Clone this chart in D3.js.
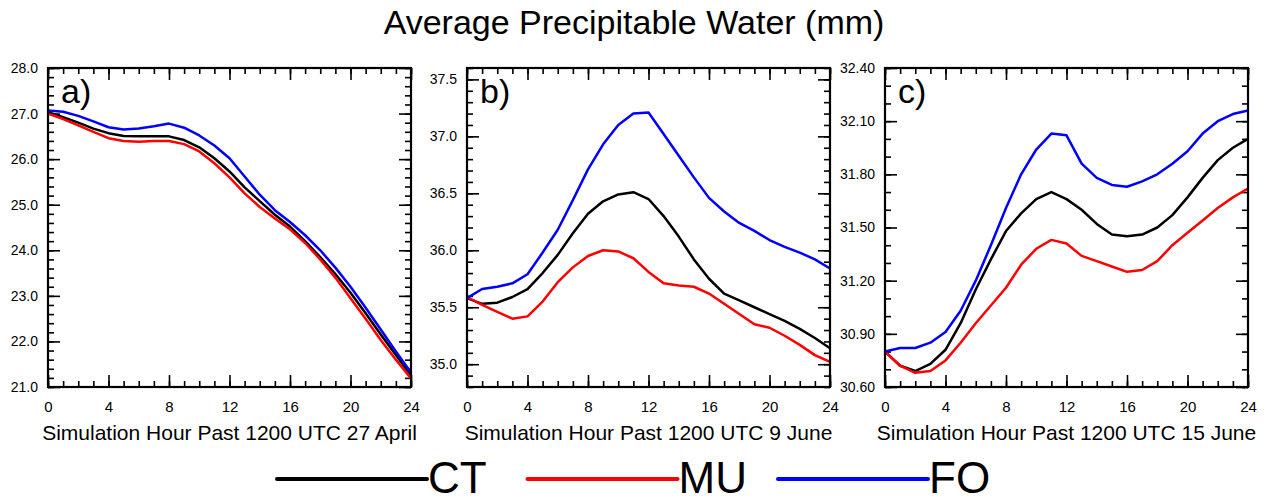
<!DOCTYPE html>
<html>
<head>
<meta charset="utf-8">
<script src="https://cdn.jsdelivr.net/npm/d3@7"></script>
<style>
  body { margin: 0; background: #fff; }
  text { font-family: "Liberation Sans", Arial, Helvetica, sans-serif; fill: #000; }
</style>
</head>
<body>
<svg id="chart" width="1268" height="499"></svg>
<script>
// simulation hours 0..24
var hours = d3.range(0, 25);
var seriesNames = ["CT", "MU", "FO"];
var seriesColors = ["#000000", "#ff0000", "#0000ff"];

// a) 27 April
var aprilCT = [27.03, 26.92, 26.80, 26.67, 26.57, 26.51, 26.50, 26.50, 26.50, 26.42, 26.26, 26.02, 25.73, 25.38, 25.08, 24.78, 24.52, 24.20, 23.85, 23.48, 23.07, 22.62, 22.15, 21.70, 21.26];
var aprilMU = [27.00, 26.88, 26.74, 26.60, 26.46, 26.40, 26.38, 26.40, 26.40, 26.33, 26.17, 25.91, 25.60, 25.25, 24.95, 24.70, 24.46, 24.16, 23.80, 23.40, 22.95, 22.50, 22.03, 21.60, 21.19];
var aprilFO = [27.07, 27.04, 26.95, 26.83, 26.70, 26.65, 26.67, 26.72, 26.78, 26.69, 26.52, 26.30, 26.02, 25.62, 25.22, 24.88, 24.62, 24.33, 24.00, 23.62, 23.20, 22.74, 22.26, 21.78, 21.32];

// b) 9 June
var june9CT = [35.58, 35.53, 35.54, 35.59, 35.66, 35.80, 35.96, 36.15, 36.32, 36.43, 36.49, 36.51, 36.45, 36.30, 36.12, 35.92, 35.75, 35.62, 35.56, 35.50, 35.44, 35.38, 35.31, 35.23, 35.14];
var june9MU = [35.59, 35.52, 35.46, 35.40, 35.42, 35.55, 35.72, 35.85, 35.95, 36.00, 35.99, 35.93, 35.81, 35.71, 35.69, 35.68, 35.62, 35.53, 35.44, 35.35, 35.32, 35.25, 35.17, 35.08, 35.02];
var june9FO = [35.58, 35.66, 35.68, 35.71, 35.79, 35.98, 36.18, 36.44, 36.71, 36.93, 37.10, 37.20, 37.21, 37.02, 36.83, 36.64, 36.46, 36.34, 36.24, 36.17, 36.09, 36.03, 35.98, 35.92, 35.84];

// c) 15 June
var june15CT = [30.80, 30.72, 30.69, 30.73, 30.81, 30.96, 31.15, 31.32, 31.48, 31.58, 31.66, 31.70, 31.66, 31.60, 31.52, 31.46, 31.45, 31.46, 31.50, 31.57, 31.67, 31.78, 31.88, 31.95, 32.00];
var june15MU = [30.80, 30.72, 30.68, 30.69, 30.75, 30.85, 30.96, 31.06, 31.16, 31.29, 31.38, 31.43, 31.41, 31.34, 31.31, 31.28, 31.25, 31.26, 31.31, 31.40, 31.47, 31.54, 31.61, 31.67, 31.72];
var june15FO = [30.80, 30.82, 30.82, 30.85, 30.91, 31.03, 31.20, 31.40, 31.61, 31.80, 31.94, 32.03, 32.02, 31.86, 31.78, 31.74, 31.73, 31.76, 31.80, 31.86, 31.93, 32.03, 32.10, 32.14, 32.16];

// axis settings
var xMajorTicks = [0, 4, 8, 12, 16, 20, 24];
var panelLetters = ["a)", "b)", "c)"];
var panelTitles = ["Simulation Hour Past 1200 UTC 27 April", "Simulation Hour Past 1200 UTC 9 June", "Simulation Hour Past 1200 UTC 15 June"];
var yDomains = [[21.0, 28.0], [34.8, 37.6], [30.6, 32.4]];
var yMajorTicks = [
  [21.0, 22.0, 23.0, 24.0, 25.0, 26.0, 27.0, 28.0],
  [35.0, 35.5, 36.0, 36.5, 37.0, 37.5],
  [30.6, 30.9, 31.2, 31.5, 31.8, 32.1, 32.4]
];
var yMinorStep = [0.2, 0.1, 0.1];
var yFormats = [".1f", ".1f", ".2f"];
var panelData = [
  [aprilCT, aprilMU, aprilFO],
  [june9CT, june9MU, june9FO],
  [june15CT, june15MU, june15FO]
];

var svg = d3.select("#chart");
var panelLeft = [48, 467, 885];
var pw = 363, ph = 319, top0 = 68;

// title
svg.append("text")
  .attr("x", 634).attr("y", 34)
  .attr("text-anchor", "middle")
  .style("font-size", "34px")
  .text("Average Precipitable Water (mm)");

panelLetters.forEach(function(letter, p) {
  var g = svg.append("g").attr("transform", "translate(" + panelLeft[p] + "," + top0 + ")");

  var x = d3.scaleLinear().domain([0, 24]).range([0, pw]);
  var y = d3.scaleLinear().domain(yDomains[p]).range([ph, 0]);

  var lo = yDomains[p][0], hi = yDomains[p][1];
  var yMinor = d3.range(Math.round((hi - lo) / yMinorStep[p]) + 1).map(function(i) { return lo + i * yMinorStep[p]; });

  // minor ticks, all four sides, pointing in
  g.append("g").attr("transform", "translate(0," + ph + ")").call(d3.axisBottom(x).tickValues(hours).tickSize(-6).tickFormat(""));
  g.append("g").call(d3.axisTop(x).tickValues(hours).tickSize(-6).tickFormat(""));
  g.append("g").call(d3.axisLeft(y).tickValues(yMinor).tickSize(-6).tickFormat(""));
  g.append("g").attr("transform", "translate(" + pw + ",0)").call(d3.axisRight(y).tickValues(yMinor).tickSize(-6).tickFormat(""));

  // major ticks
  g.append("g").attr("class", "xaxis").attr("transform", "translate(0," + ph + ")")
    .call(d3.axisBottom(x).tickValues(xMajorTicks).tickSize(-12).tickPadding(14).tickFormat(d3.format("d")));
  g.append("g").call(d3.axisTop(x).tickValues(xMajorTicks).tickSize(-12).tickFormat(""));
  g.append("g").attr("class", "yaxis")
    .call(d3.axisLeft(y).tickValues(yMajorTicks[p]).tickSize(-12).tickPadding(10).tickFormat(d3.format(yFormats[p])));
  g.append("g").attr("transform", "translate(" + pw + ",0)").call(d3.axisRight(y).tickValues(yMajorTicks[p]).tickSize(-12).tickFormat(""));

  g.selectAll(".domain").remove();
  g.selectAll(".tick line").attr("stroke", "#000").attr("stroke-width", 1.6);
  g.selectAll(".xaxis text").style("font-size", "15px").attr("fill", "#000");
  g.selectAll(".yaxis text").style("font-size", "14px").attr("fill", "#000");

  // data lines
  var line = d3.line()
    .x(function(d, i) { return x(hours[i]); })
    .y(function(d) { return y(d); });

  panelData[p].forEach(function(vals, s) {
    g.append("path")
      .datum(vals)
      .attr("d", line)
      .attr("fill", "none")
      .attr("stroke", seriesColors[s])
      .attr("stroke-width", 2.5)
      .attr("stroke-linejoin", "round");
  });

  // frame
  g.append("rect")
    .attr("width", pw).attr("height", ph)
    .attr("fill", "none").attr("stroke", "#000").attr("stroke-width", 2.2);

  // panel letter
  g.append("text")
    .attr("x", 13).attr("y", 35)
    .style("font-size", "34px")
    .text(letter);

  // x title
  g.append("text")
    .attr("x", pw / 2).attr("y", 440 - top0)
    .attr("text-anchor", "middle")
    .style("font-size", "21px")
    .text(panelTitles[p]);
});

// legend
var legend = svg.append("g");
seriesNames.forEach(function(name, i) {
  var x0 = 277 + i * 250.5;
  legend.append("line")
    .attr("x1", x0).attr("x2", x0 + 150)
    .attr("y1", 479).attr("y2", 479)
    .attr("stroke", seriesColors[i])
    .attr("stroke-width", 4)
    .attr("stroke-linecap", "round");
  legend.append("text")
    .attr("x", x0 + 151).attr("y", 493)
    .style("font-size", "44px")
    .text(name);
});
</script>
</body>
</html>
